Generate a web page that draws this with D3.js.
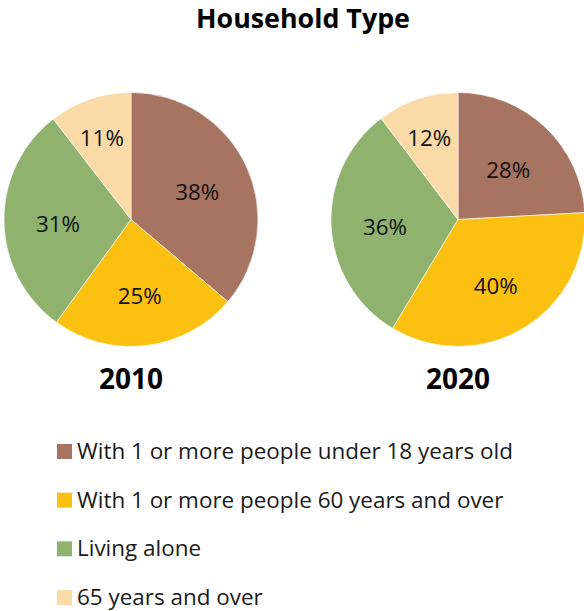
<!DOCTYPE html>
<html>
<head>
<meta charset="utf-8">
<script src="https://cdn.jsdelivr.net/npm/d3@7"></script>
<style>
  html, body { margin: 0; padding: 0; background: #fff; }
  svg { display: block; }
</style>
</head>
<body>
<svg id="chart" width="584" height="611"></svg>
<script>
const title = "Household Type";
const categories = [
  "With 1 or more people under 18 years old",
  "With 1 or more people 60 years and over",
  "Living alone",
  "65 years and over"
];
const years = ["2010", "2020"];
const values2010 = [38, 25, 31, 11];
const values2020 = [28, 40, 36, 12];
const colors = ["#A87462", "#FBC012", "#8FB26E", "#FADAA6"];

const FONT = "'Open Sans', 'Noto Sans', sans-serif";
const svg = d3.select("#chart");

function fitSize(text, weight, targetWidth, base) {
  const t = svg.append("text").attr("font-family", FONT).attr("font-weight", weight)
    .attr("font-size", base).text(text);
  const w = t.node().getComputedTextLength();
  t.remove();
  return base * targetWidth / w;
}

const color = d3.scaleOrdinal().domain(categories).range(colors);

// Title
const titleSize = fitSize(title, 700, 214, 24);
svg.append("text")
  .attr("x", 303).attr("y", 28)
  .attr("text-anchor", "middle")
  .attr("font-family", FONT).attr("font-weight", 700)
  .attr("font-size", titleSize)
  .attr("fill", "#000")
  .text(title);

const radius = 127;
const centers = d3.scalePoint().domain(years).range([131, 458]);
const cy = 219.5;
const pie = d3.pie().sort(null).value(d => d.v);
const arc = d3.arc().innerRadius(0).outerRadius(radius);
const labelSize = fitSize("38%", 400, 44, 20);
const yearSize = fitSize("2010", 700, 64, 24);

const series = [values2010, values2020];
years.forEach((yr, i) => {
  const data = categories.map((c, j) => ({ c, v: series[i][j] }));
  const arcs = pie(data);
  const g = svg.append("g").attr("transform", `translate(${centers(yr)},${cy})`);
  g.selectAll("path").data(arcs).join("path")
    .attr("d", arc)
    .attr("fill", d => color(d.data.c))
    .attr("stroke", "#ffffff")
    .attr("stroke-width", 0.6);
  g.selectAll("text").data(arcs).join("text")
    .attr("transform", d => {
      const span = d.endAngle - d.startAngle;
      const lr = span < Math.PI / 4 ? radius * 0.71 : radius * 0.575;
      const a = (d.startAngle + d.endAngle) / 2;
      return `translate(${Math.sin(a) * lr},${-Math.cos(a) * lr + 3})`;
    })
    .attr("text-anchor", "middle")
    .attr("dominant-baseline", "central")
    .attr("font-family", FONT)
    .attr("font-size", labelSize)
    .attr("fill", "#111")
    .text(d => d.data.v + "%");
  svg.append("text")
    .attr("x", centers(yr)).attr("y", 389)
    .attr("text-anchor", "middle")
    .attr("font-family", FONT).attr("font-weight", 700)
    .attr("font-size", yearSize)
    .attr("fill", "#000")
    .text(yr);
});

// Legend
const legendSize = fitSize(categories[0], 400, 436, 20);
const ly = d3.scalePoint().domain(categories).range([459, 605]);
const lg = svg.append("g");
categories.forEach(c => {
  lg.append("rect")
    .attr("x", 57).attr("y", ly(c) - 15)
    .attr("width", 15).attr("height", 15)
    .attr("fill", color(c));
  lg.append("text")
    .attr("x", 77).attr("y", ly(c))
    .attr("font-family", FONT)
    .attr("font-size", legendSize)
    .attr("fill", "#1a1a1a")
    .text(c);
});
</script>
</body>
</html>
